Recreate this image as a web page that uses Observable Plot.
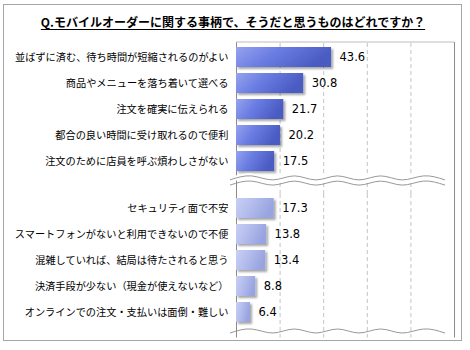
<!DOCTYPE html>
<html><head><meta charset="utf-8">
<script src="https://cdn.jsdelivr.net/npm/d3@7"></script>
<script src="https://cdn.jsdelivr.net/npm/@observablehq/plot@0.6"></script>
<style>
body{margin:0;background:#fff;width:470px;height:350px;overflow:hidden;position:relative;font-family:"Noto Sans CJK JP",sans-serif;}
#border{position:absolute;left:3px;top:4px;width:459px;height:337px;border:1px solid #a6a6a6;box-sizing:border-box;}
#title{position:absolute;left:0;width:466px;top:13px;text-align:center;font-weight:bold;font-size:12px;line-height:18px;text-decoration:underline;text-underline-offset:2px;color:#000;}
#chart{position:absolute;left:0;top:0;}
</style></head>
<body>
<div id="border"></div>
<div id="title">Q.モバイルオーダーに関する事柄で、そうだと思うものはどれですか？</div>
<div id="chart"></div>
<script>
const groups = ["上位", "下位"];
const topLabels = [
  "並ばずに済む、待ち時間が短縮されるのがよい",
  "商品やメニューを落ち着いて選べる",
  "注文を確実に伝えられる",
  "都合の良い時間に受け取れるので便利",
  "注文のために店員を呼ぶ煩わしさがない"
];
const topValues = [43.6, 30.8, 21.7, 20.2, 17.5];
const bottomLabels = [
  "セキュリティ面で不安",
  "スマートフォンがないと利用できないので不便",
  "混雑していれば、結局は待たされると思う",
  "決済手段が少ない（現金が使えないなど）",
  "オンラインでの注文・支払いは面倒・難しい"
];
const bottomValues = [17.3, 13.8, 13.4, 8.8, 6.4];
const gridTicks = [20, 40, 60, 80];
const frameTicks = [0, 100];

const rows = [
  ...topLabels.map((label, i) => ({g: groups[0], rank: i, label, value: topValues[i]})),
  ...bottomLabels.map((label, i) => ({g: groups[1], rank: i, label, value: bottomValues[i]}))
];
const grid = groups.flatMap(g => gridTicks.map(t => ({g, t})));
const frame = groups.flatMap(g => frameTicks.map(t => ({g, t})));

const plot = Plot.plot({
  width: 470, height: 350,
  marginLeft: 236, marginRight: 16, marginTop: 42, marginBottom: 23.3,
  style: {background: "transparent", overflow: "visible"},
  x: {domain: [0, 100], axis: null},
  y: {type: "band", domain: [0, 1, 2, 3, 4], paddingInner: 0.25, paddingOuter: 0.125, axis: null},
  fy: {domain: groups, paddingInner: 0.123, paddingOuter: 0, axis: null},
  marks: [
    Plot.ruleX(grid.filter(d => d.g === groups[0]), {x: "t", fy: "g", stroke: "#c4c4c4", strokeDasharray: "4,3", insetBottom: -19}),
    Plot.ruleX(grid.filter(d => d.g === groups[1]), {x: "t", fy: "g", stroke: "#c4c4c4", strokeDasharray: "4,3", insetBottom: -11.5}),
    Plot.ruleX(frame.filter(d => d.g === groups[0]), {x: "t", fy: "g", stroke: "#8c8c8c", insetTop: -1, insetBottom: -19}),
    Plot.ruleX(frame.filter(d => d.g === groups[1]), {x: "t", fy: "g", stroke: "#8c8c8c", insetBottom: -11.5}),
    Plot.barX(rows.filter(d => d.g === groups[0]), {x: "value", y: "rank", fy: "g", fill: "url(#gradTop)"}),
    Plot.barX(rows.filter(d => d.g === groups[1]), {x: "value", y: "rank", fy: "g", fill: "url(#gradBottom)"}),
    Plot.text(rows, {x: "value", y: "rank", fy: "g", text: d => d.value.toFixed(1), dx: 8, textAnchor: "start",
      fontSize: 11.5, fontFamily: "DejaVu Sans", fill: "#000"}),
    Plot.text(rows, {x: 0, y: "rank", fy: "g", text: "label", dx: -8, textAnchor: "end",
      fontSize: 10.2, fontFamily: "Noto Sans CJK JP", fill: "#000"})
  ]
});
document.getElementById("chart").appendChild(plot);

const svg = d3.select(plot);
const defs = svg.insert("defs", ":first-child");
function grad(id, stops) {
  const g = defs.append("linearGradient").attr("id", id).attr("x1", 0).attr("y1", 0).attr("x2", 1).attr("y2", 0.3);
  stops.forEach(([o, c]) => g.append("stop").attr("offset", o).attr("stop-color", c));
}
grad("gradTop", [[0, "#97a3ee"], [0.45, "#6a7de2"], [1, "#4a5bc2"]]);
grad("gradBottom", [[0, "#c9d0f4"], [0.5, "#b2bbec"], [1, "#98a4e0"]]);
const f = defs.append("filter").attr("id", "shadow").attr("x", "-10%").attr("y", "-20%").attr("width", "130%").attr("height", "160%");
f.append("feDropShadow").attr("dx", 2).attr("dy", 2).attr("stdDeviation", 1.2).attr("flood-color", "#000").attr("flood-opacity", 0.35);
svg.selectAll('g[aria-label="bar"]').attr("filter", "url(#shadow)");

// decorative top edge and axis-break waves
const xs = plot.scale("x");
const xScale = d3.scaleLinear().domain(xs.domain).range(xs.range);
const frameTop = 42;
svg.append("line").attr("x1", xScale(0)).attr("x2", xScale(100)).attr("y1", frameTop).attr("y2", frameTop)
  .attr("stroke", "#bdbdbd");

function wave(x0, x1, y, amp, period) {
  const pts = [];
  for (let x = x0, k = 0; x <= x1 + 0.1; x += period / 2, k++) pts.push([x, y + (k % 2 ? -amp : amp)]);
  return d3.line().curve(d3.curveNatural)(pts);
}
const wx0 = xScale(0) - 6, wx1 = xScale(100) + 6;
const gapG = svg.append("g");
const yb = 180.5;
const up = wave(wx0, wx1, yb - 2.6, 2, 43);
const dn = wave(wx0, wx1, yb + 2.6, 2, 43);
gapG.append("path").attr("d", up).attr("fill", "none").attr("stroke", "#fff").attr("stroke-width", 5);
gapG.append("path").attr("d", up).attr("fill", "none").attr("stroke", "#8c8c8c").attr("stroke-width", 0.9);
gapG.append("path").attr("d", dn).attr("fill", "none").attr("stroke", "#8c8c8c").attr("stroke-width", 0.9);
svg.append("path").attr("d", wave(wx0, wx1, 331, 2, 43)).attr("fill", "none").attr("stroke", "#8c8c8c").attr("stroke-width", 0.9);
</script>
</body></html>
